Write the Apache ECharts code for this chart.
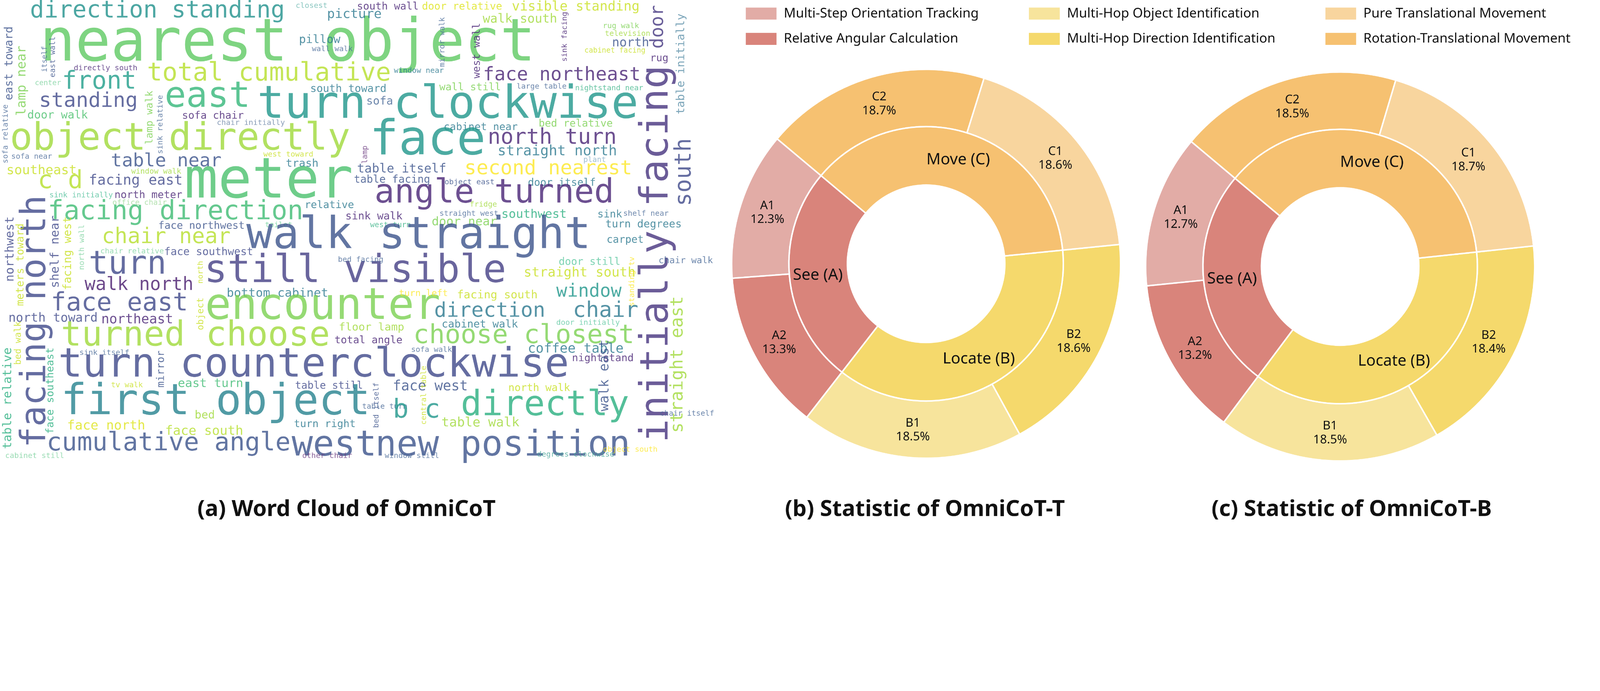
<!DOCTYPE html>
<html>
<head>
<meta charset="utf-8">
<script src="https://cdn.jsdelivr.net/npm/echarts@6/dist/echarts.min.js"></script>
<style>html,body{margin:0;background:#fff;overflow:hidden}#main{width:5306px;height:1770px;transform-origin:0 0}</style>
</head>
<body>
<div id="main"></div>
<script>
// word cloud: word, centre x / y (pixels of the cloud panel), font size, colour, vertical
const words = ['direction standing','nearest object','closest','picture','pillow','wall walk','east toward','lamp near','itself','east wall',
 'directly south','total cumulative','center','front','east','turn clockwise','standing','door walk','sofa chair','chair initially',
 'lamp walk','sink relative','sofa relative','object directly','sofa near','west toward','table near','trash','southeast','window walk',
 'c d','facing east','meter','sink initially','north meter','office chair','relative','facing direction','face northwest','toilet',
 'south wall','door relative','visible standing','walk south','mirror walk','west wall','sink facing','rug walk','television','north',
 'cabinet facing','rug','door','table initially','window near','face northeast','initially facing','south','south toward','wall still',
 'large table','nightstand near','sofa','cabinet near','bed relative','face','north turn','straight north','lamp','plant',
 'table itself','second nearest','table facing','object east','door itself','angle turned','fridge','straight west','southwest','sink',
 'shelf near','sink walk','west turn','door near','turn degrees','walk straight','facing north','northwest','meters toward','shelf near',
 'facing west','north wall','chair near','chair relative','face southwest','turn','still visible','walk north','north','bottom cabinet',
 'face east','encounter','north toward','northeast','object','turned choose','bed walk','table relative','face southeast','sink itself',
 'mirror','turn counterclockwise','tv walk','east turn','table still','first object','bed','face north','face south','turn right',
 'cumulative angle','west','new position','cabinet still','other chair','carpet','bed facing','door still','straight south','standing tv',
 'chair walk','window','turn left','facing south','direction','chair','floor lamp','cabinet walk','door initially','straight east',
 'choose closest','total angle','sofa walk','coffee table','nightstand','walk east','chair itself','face west','north walk','central table',
 'bed itself','table turn','b c','directly','table walk','object south','degrees clockwise','window still'];
const wordX = [522,954,1033,1175,1060,1102,31,73,149,176,
 350,892,159,329,688,1485,293,191,706,832,
 497,532,19,597,105,956,551,1002,138,518,
 200,450,891,269,492,463,1092,582,668,924,
 1286,1532,1909,1724,1467,1582,1873,2059,2081,2091,
 2039,2186,2183,2259,1389,1863,2180,2271,1155,1559,
 1796,2020,1259,1594,1909,1418,1831,1848,1211,1972,
 1332,1818,1300,1557,1863,1639,1603,1555,1771,2022,
 2142,1240,1295,1540,2134,1388,120,34,69,184,
 226,272,551,438,692,423,1178,461,666,920,
 396,1070,176,455,666,648,61,27,168,346,
 535,1040,421,698,1091,715,679,352,677,1077,
 559,1108,1667,115,1085,2073,1196,1955,1922,2096,
 2274,1953,1404,1649,1624,2008,1232,1591,1950,2248,
 1737,1222,1431,1909,1999,2006,2278,1427,1788,1406,
 1249,1276,1381,1807,1593,2090,1909,1366];
const wordY = [38,150,20,48,133,163,210,268,196,189,
 227,245,276,273,324,352,337,383,385,408,
 390,413,444,464,520,513,536,543,566,569,
 602,600,607,648,648,673,681,704,750,747,
 23,23,23,64,140,168,122,87,112,143,
 168,194,89,212,235,250,842,571,296,291,
 288,293,337,423,411,470,459,503,513,531,
 561,561,597,605,607,643,679,709,712,712,
 709,719,747,737,745,785,1066,826,878,835,
 840,820,788,834,837,880,902,946,903,974,
 1008,1020,1056,1061,1041,1117,1138,1321,1296,1171,
 1224,1214,1278,1273,1280,1337,1378,1413,1431,1408,
 1472,1480,1480,1513,1513,796,862,870,906,934,
 865,969,974,980,1033,1033,1087,1077,1071,1209,
 1115,1130,1161,1158,1189,1245,1372,1283,1288,1311,
 1344,1349,1362,1347,1403,1492,1508,1513];
const wordSize = [78,195,25,43,38,25,37,43,24,25,
 25,84,24,82,118,150,68,37,34,25,
 33,25,25,125,25,25,61,36,43,25,
 83,47,186,25,34,25,34,88,34,25,
 34,34,44,41,25,34,25,25,25,41,
 24,34,60,37,25,62,130,75,35,34,
 25,25,37,34,34,160,71,47,25,25,
 41,66,35,25,34,110,25,25,40,34,
 25,35,25,40,35,146,116,40,35,40,
 37,25,71,25,35,107,128,60,25,40,
 84,144,41,44,30,114,30,40,34,25,
 34,134,25,40,34,142,37,43,43,34,
 84,117,117,25,25,34,25,34,44,25,
 30,60,30,37,68,72,36,35,25,58,
 87,34,25,44,34,44,25,46,34,25,
 25,25,87,116,43,25,25,25];
const wordColor = ['#21918c','#5ec962','#6cb8b0','#2a788e','#2a788e','#4a6a99','#3b528b','#7ad151','#4a6a99','#3b528b',
 '#482475','#b5de2b','#7fd3a0','#1f9e89','#35b779','#1f968b','#3e4989','#4ac16d','#482475','#6b84a6',
 '#7ad151','#4a6a99','#4a6a99','#9fda3a','#4a6a99','#c8e020','#3b528b','#2a788e','#c8e020','#a0da39',
 '#b5de2b','#3e4989','#4ac16d','#4fbf9a','#482475','#9fda9a','#2a788e','#3fbc73','#3b528b','#6ccf9a',
 '#482475','#dde318','#c8e020','#a0da39','#4a6a99','#482475','#482475','#7ad151','#a0da39','#3b528b',
 '#c8e020','#482475','#453781','#5a8fa8','#2a788e','#482475','#46337e','#3e4989','#2a788e','#7ad151',
 '#4a6a99','#3fb58a','#4a6a99','#2a788e','#7ad151','#1f968b','#482475','#2a788e','#6a3a80','#8ab0c8',
 '#3b528b','#fde725','#3b528b','#3b528b','#2a788e','#482475','#a0da39','#4a6a99','#29af7f','#2a788e',
 '#4a6a99','#482475','#3fb58a','#7ad151','#2a788e','#3b528b','#3e4989','#3e4989','#c8e020','#3e4989',
 '#c8e020','#7fd3a0','#b5de2b','#7fd3a0','#3e4989','#3e4989','#433e85','#481c6e','#c8e020','#2a788e',
 '#3e4989','#7ad151','#3e4989','#482475','#c8e020','#9fda3a','#c8e020','#29af7f','#29af7f','#4a6a99',
 '#3b528b','#3e4989','#c8e020','#3fbc73','#3e4989','#26828e','#a0da39','#dde318','#b5de2b','#2a788e',
 '#3b528b','#3b528b','#3b528b','#7fd3a0','#6a3a80','#2a788e','#4a6a99','#5cc8a0','#c8e020','#fde725',
 '#4a6a99','#1f968b','#fde725','#c8e020','#2a788e','#2a788e','#a0da39','#2a788e','#5cc8a0','#a0da39',
 '#7ad151','#482475','#4a6a99','#2a788e','#482475','#3b528b','#4a6a99','#3b528b','#c8e020','#c8e020',
 '#3b528b','#4a6a99','#1f968b','#29af7f','#a0da39','#fde725','#4aa69a','#4a6a99'];
// indexes of words drawn vertically
const verticalIdx = [6,7,8,9,20,21,22,44,45,46,52,53,56,57,68,86,87,88,89,90,91,98,104,106,107,108,110,129,139,145,149,150];

// pie data
const outerCodes = ['A1','A2','B1','B2','C1','C2'];
const outerNames = ['Multi-Step Orientation Tracking','Relative Angular Calculation','Multi-Hop Object Identification',
  'Multi-Hop Direction Identification','Pure Translational Movement','Rotation-Translational Movement'];
const outerT = [12.3,13.3,18.5,18.6,18.6,18.7];
const outerB = [12.7,13.2,18.5,18.4,18.7,18.5];
const innerNames = ['See (A)','Locate (B)','Move (C)'];
const innerT = [25.6,37.1,37.3];
const innerB = [25.9,36.9,37.2];
const outerColors = ['#e2aca6','#d9847b','#f7e49c','#f5d96c','#f8d59e','#f6c171'];
const innerColors = ['#d9847b','#f5d96c','#f6c171'];

const uiFont = '"Comic Sans MS", "Noto Sans", sans-serif';

const cloudData = words.map((w, i) => ({
  name: w,
  value: [wordX[i], wordY[i]],
  label: {
    fontSize: wordSize[i],
    color: wordColor[i],
    rotate: verticalIdx.includes(i) ? 90 : 0
  }
}));

const makePies = (cx, cy, outerVals, innerVals) => [
  {
    type: 'pie', center: [cx, cy], radius: [455, 645],
    startAngle: 140, clockwise: false, silent: true,
    itemStyle: { borderColor: '#fff', borderWidth: 5 },
    label: {
      position: 'inside', color: '#111', fontSize: 40, lineHeight: 46, fontFamily: uiFont,
      formatter: p => outerCodes[p.dataIndex] + '\n' + p.value.toFixed(1) + '%'
    },
    labelLine: { show: false },
    data: outerNames.map((n, i) => ({ name: n, value: outerVals[i], itemStyle: { color: outerColors[i] } }))
  },
  {
    type: 'pie', center: [cx, cy], radius: [261, 455],
    startAngle: 140, clockwise: false, silent: true,
    itemStyle: { borderColor: '#fff', borderWidth: 5 },
    label: { position: 'inside', color: '#111', fontSize: 52, fontFamily: uiFont, formatter: '{b}' },
    labelLine: { show: false },
    data: innerNames.map((n, i) => ({ name: n, value: innerVals[i], itemStyle: { color: innerColors[i] } }))
  }
];

const legendBase = {
  orient: 'vertical', top: 18, itemWidth: 104, itemHeight: 42, itemGap: 40,
  icon: 'rect', selectedMode: false,
  textStyle: { fontSize: 44, color: '#111', fontFamily: uiFont, padding: [0, 0, 0, 18] }
};

// fit the 5306x1770 drawing into whatever the window really is
const dom = document.getElementById('main');
const s = window.innerWidth / 5306;
dom.style.transform = `scale(${s})`;
const chart = echarts.init(dom, null, { devicePixelRatio: (window.devicePixelRatio || 1) * Math.max(s, 1 / s) });
chart.setOption({
  backgroundColor: '#fff',
  animation: false,
  grid: { left: 0, top: 0, width: 2290, height: 1530 },
  xAxis: { type: 'value', min: 0, max: 2290, show: false },
  yAxis: { type: 'value', min: 0, max: 1530, inverse: true, show: false },
  legend: [
    Object.assign({}, legendBase, { left: 2466, data: outerNames.slice(0, 2) }),
    Object.assign({}, legendBase, { left: 3405, data: outerNames.slice(2, 4) }),
    Object.assign({}, legendBase, { left: 4388, data: outerNames.slice(4, 6) })
  ],
  title: [
    { text: '(a) Word Cloud of OmniCoT', left: 1144, top: 1648, textAlign: 'center' },
    { text: '(b) Statistic of OmniCoT-T', left: 3062, top: 1648, textAlign: 'center' },
    { text: '(c) Statistic of OmniCoT-B', left: 4477, top: 1648, textAlign: 'center' }
  ].map(t => Object.assign(t, { textStyle: { fontSize: 74, fontWeight: 'bold', color: '#111', fontFamily: uiFont } })),
  series: [
    {
      type: 'scatter', symbolSize: 0, silent: true,
      label: {
        show: true, position: 'inside', formatter: '{b}',
        fontFamily: '"DejaVu Sans Mono", monospace', align: 'center', verticalAlign: 'middle'
      },
      data: cloudData
    },
    ...makePies(3071, 875, outerT, innerT),
    ...makePies(4444, 884, outerB, innerB)
  ]
});
</script>
</body>
</html>
